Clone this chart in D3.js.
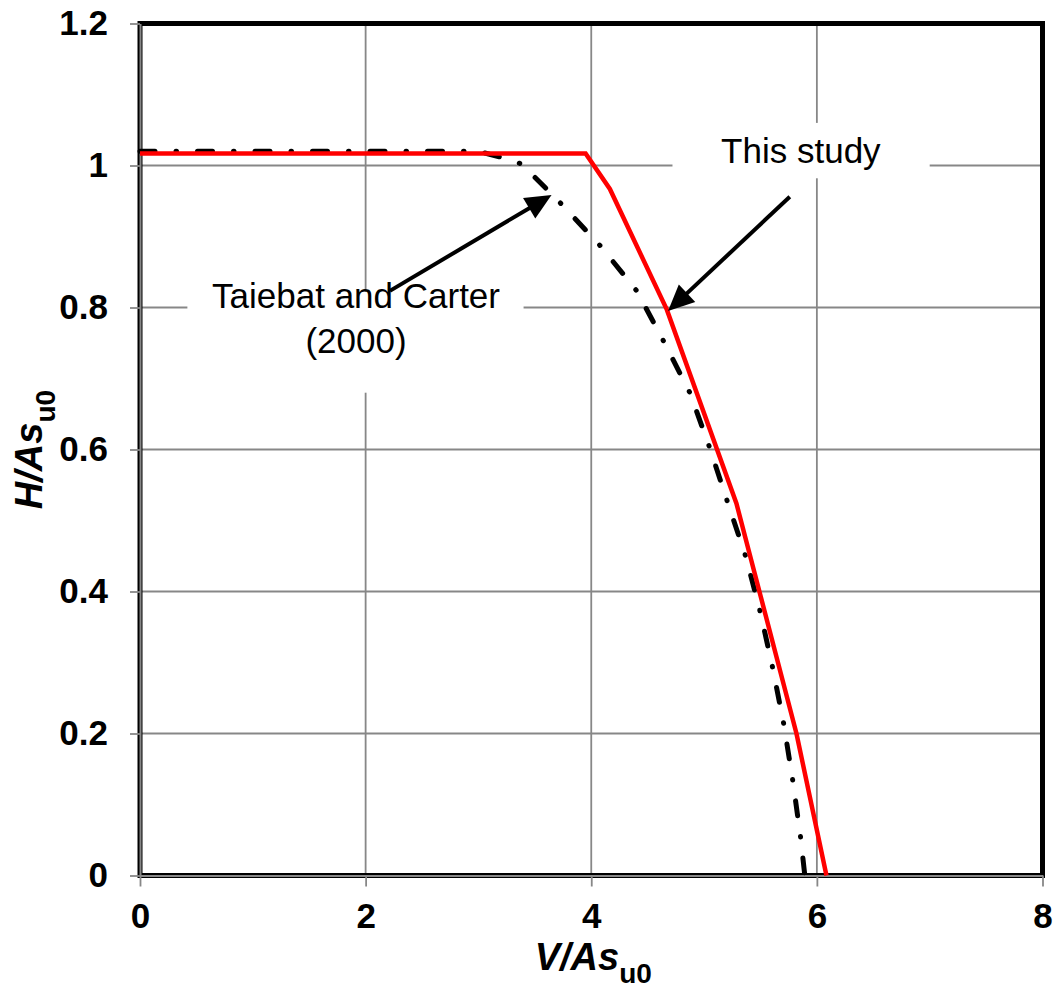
<!DOCTYPE html>
<html>
<head>
<meta charset="utf-8">
<script src="https://cdn.jsdelivr.net/npm/d3@7"></script>
<style>
  html, body { margin: 0; padding: 0; background: #fff; }
  svg { display: block; font-family: Arial, "Liberation Sans", sans-serif; }
</style>
</head>
<body>
<svg id="chart" width="1058" height="1001"></svg>
<script>
// Horizontal axis: normalised vertical load V/As_u0
const xTicks = [0, 2, 4, 6, 8];
const xTickLabels = ["0", "2", "4", "6", "8"];
// Vertical axis: normalised horizontal load H/As_u0
const yTicks = [0, 0.2, 0.4, 0.6, 0.8, 1.0, 1.2];
const yTickLabels = ["0", "0.2", "0.4", "0.6", "0.8", "1", "1.2"];

// Failure envelope, this study (solid red)
const thisStudyV = [0, 3.95, 4.165, 4.67, 5.287, 5.819, 6.085];
const thisStudyH = [1.017, 1.017, 0.967, 0.797, 0.524, 0.200, 0];

// Failure envelope, Taiebat and Carter (2000) (dash-dot black)
const taiebatV = [0, 3.0, 3.19, 3.385, 3.74, 4.085, 4.405, 4.643, 4.874, 5.051, 5.21, 5.37, 5.50, 5.61, 5.708, 5.788, 5.858, 5.893];
const taiebatH = [1.020, 1.020, 1.012, 1.002, 0.945, 0.886, 0.823, 0.752, 0.680, 0.602, 0.525, 0.449, 0.370, 0.291, 0.212, 0.132, 0.051, 0];

const svg = d3.select("#chart");
const x = d3.scaleLinear().domain([0, 8]).range([140, 1042.5]);
const y = d3.scaleLinear().domain([0, 1.2]).range([875.5, 23.5]);

const gridColor = "#878787";

// grid
const grid = svg.append("g");
grid.selectAll("line.vx").data(xTicks).join("line")
  .attr("x1", d => x(d)).attr("x2", d => x(d))
  .attr("y1", y(0)).attr("y2", y(1.2))
  .attr("stroke", gridColor).attr("stroke-width", 1.8);
grid.selectAll("line.hy").data(yTicks).join("line")
  .attr("x1", x(0)).attr("x2", x(8))
  .attr("y1", d => y(d)).attr("y2", d => y(d))
  .attr("stroke", gridColor).attr("stroke-width", 1.8);

// plot frame
svg.append("rect")
  .attr("x", x(0)).attr("y", y(1.2))
  .attr("width", x(8) - x(0)).attr("height", y(0) - y(1.2))
  .attr("fill", "none").attr("stroke", "#000").attr("stroke-width", 5);

// axes
const tickFontSize = 35;
const yAxis = d3.axisLeft(y).tickValues(yTicks)
  .tickFormat((d, i) => yTickLabels[i]).tickSize(10).tickSizeOuter(0).tickPadding(22);
const xAxis = d3.axisBottom(x).tickValues(xTicks)
  .tickFormat((d, i) => xTickLabels[i]).tickSize(11).tickSizeOuter(0).tickPadding(17);

function styleAxis(g) {
  g.select(".domain").attr("stroke", gridColor).attr("stroke-width", 2);
  g.selectAll(".tick line").attr("stroke", gridColor).attr("stroke-width", 1.8);
  g.selectAll(".tick text")
    .attr("fill", "#000")
    .attr("font-family", "Arial, 'Liberation Sans', sans-serif")
    .attr("font-size", tickFontSize).attr("font-weight", "bold");
}
svg.append("g").attr("transform", `translate(${x(0)},0)`).call(yAxis).call(styleAxis);
svg.append("g").attr("transform", `translate(0,${y(0)})`).call(xAxis).call(styleAxis);

// envelopes
const line = d3.line().x(d => x(d[0])).y(d => y(d[1]));
const taiebatPts = taiebatV.map((v, i) => [v, taiebatH[i]]);
const studyPts = thisStudyV.map((v, i) => [v, thisStudyH[i]]);

svg.append("path").datum(taiebatPts).attr("d", line)
  .attr("fill", "none").attr("stroke", "#000").attr("stroke-width", 5)
  .attr("stroke-linecap", "round").attr("stroke-linejoin", "round")
  .attr("stroke-dasharray", "15 21 0.5 21");

svg.append("path").datum(studyPts).attr("d", line)
  .attr("fill", "none").attr("stroke", "#ff0000").attr("stroke-width", 4.5)
  .attr("stroke-linejoin", "miter");

// callout labels with white backgrounds
function callout(cx, lines, baselines, box) {
  svg.append("rect")
    .attr("x", x(box[0])).attr("y", y(box[3]))
    .attr("width", x(box[2]) - x(box[0])).attr("height", y(box[1]) - y(box[3]))
    .attr("fill", "#fff");
  lines.forEach((t, i) => {
    svg.append("text")
      .attr("x", x(cx)).attr("y", y(baselines[i]))
      .attr("text-anchor", "middle")
      .attr("font-size", 35).attr("fill", "#000")
      .text(t);
  });
}
callout(5.858, ["This study"], [1.0035], [4.72, 0.982, 7.0, 1.06]);
callout(1.915, ["Taiebat and Carter", "(2000)"], [0.8, 0.7355], [0.42, 0.68, 3.40, 0.8225]);

// arrows
function arrow(from, to) {
  const x1 = x(from[0]), y1 = y(from[1]), x2 = x(to[0]), y2 = y(to[1]);
  const ang = Math.atan2(y2 - y1, x2 - x1);
  const len = 26, half = 12;
  const bx = x2 - len * Math.cos(ang), by = y2 - len * Math.sin(ang);
  svg.append("line")
    .attr("x1", x1).attr("y1", y1).attr("x2", bx + 2 * Math.cos(ang)).attr("y2", by + 2 * Math.sin(ang))
    .attr("stroke", "#000").attr("stroke-width", 4);
  const p = [
    [x2, y2],
    [bx - half * Math.sin(ang), by + half * Math.cos(ang)],
    [bx + half * Math.sin(ang), by - half * Math.cos(ang)]
  ];
  svg.append("path").attr("d", "M" + p.map(q => q.join(",")).join("L") + "Z").attr("fill", "#000");
}
arrow([2.215, 0.8234], [3.648, 0.9585]);
arrow([5.76, 0.956], [4.681, 0.795]);

// axis titles
const xt = svg.append("text")
  .attr("x", x(4) + 2).attr("y", 970)
  .attr("text-anchor", "middle")
  .attr("font-size", 38).attr("font-weight", "bold").attr("font-style", "italic");
xt.append("tspan").text("V/As");
xt.append("tspan").attr("dy", 13).attr("font-size", 28).attr("font-style", "normal").text("u0");

const yt = svg.append("text")
  .attr("transform", `translate(42,${(y(0) + y(1.2)) / 2}) rotate(-90)`)
  .attr("text-anchor", "middle")
  .attr("font-size", 38).attr("font-weight", "bold").attr("font-style", "italic");
yt.append("tspan").text("H/As");
yt.append("tspan").attr("dy", 13).attr("font-size", 28).attr("font-style", "normal").text("u0");
</script>
</body>
</html>
